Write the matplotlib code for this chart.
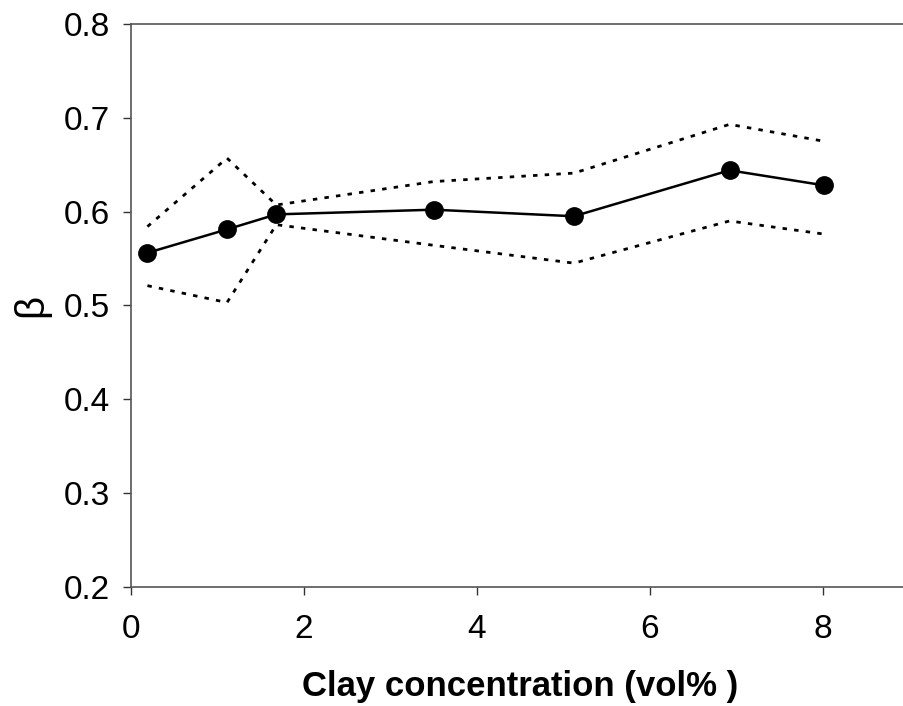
import matplotlib
matplotlib.use("Agg")
import matplotlib.pyplot as plt

# data
clay = [0.19, 1.11, 1.68, 3.50, 5.12, 6.92, 8.01]
beta = [0.556, 0.581, 0.597, 0.602, 0.595, 0.644, 0.628]
beta_upper = [0.584, 0.657, 0.607, 0.632, 0.641, 0.693, 0.675]
beta_lower = [0.521, 0.503, 0.586, 0.564, 0.545, 0.590, 0.576]

plt.rcParams["font.family"] = ["Liberation Sans", "DejaVu Sans"]

fig = plt.figure(figsize=(9.04, 7.06), dpi=100)
ax = fig.add_axes([131 / 904, 119.3 / 706, 778.5 / 904, 562.7 / 706])

ax.plot(clay, beta_upper, color="black", lw=2, ls=(0, (1.6, 2.6)))
ax.plot(clay, beta_lower, color="black", lw=2, ls=(0, (1.6, 2.6)))
ax.plot(clay, beta, color="black", lw=1.8, marker="o", markersize=12.5)

ax.set_xlim(0, 9)
ax.set_ylim(0.2, 0.8)
ax.set_xticks([0, 2, 4, 6, 8])
ax.set_yticks([0.2, 0.3, 0.4, 0.5, 0.6, 0.7, 0.8])
ax.set_yticklabels(["0.2", "0.3", "0.4", "0.5", "0.6", "0.7", "0.8"])

ax.spines["right"].set_visible(False)
for side in ["left", "bottom", "top"]:
    ax.spines[side].set_color("#555555")
    ax.spines[side].set_linewidth(1.2)

ax.tick_params(direction="out", length=6, width=1, color="#333333",
               labelsize=24, pad=14)
ax.tick_params(axis="y", pad=9)

ax.set_xlabel("Clay concentration (vol% )", fontsize=25, fontweight="bold",
              labelpad=18)
ax.set_ylabel("β", fontsize=29, labelpad=10)

fig.savefig("out.png", dpi=100)
